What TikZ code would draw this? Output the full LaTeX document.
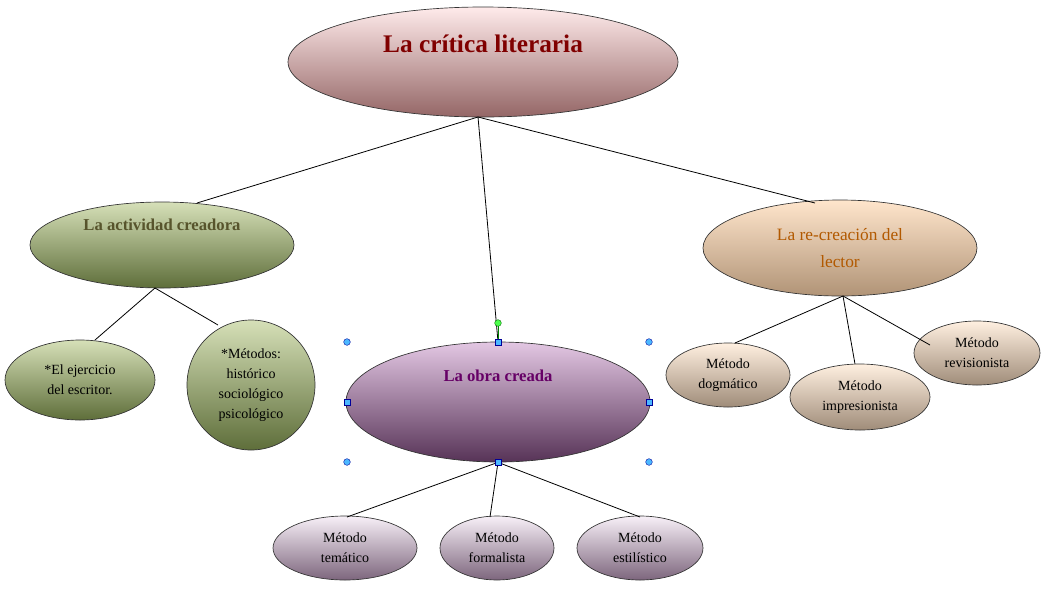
\documentclass[tikz,border=0pt]{standalone}
\usepackage{fontspec}
\setmainfont{Liberation Serif}
\usetikzlibrary{shapes.geometric}
\definecolor{gtop}{HTML}{D6E0B8}
\definecolor{gbot}{HTML}{5E6E3A}
\begin{document}
\begin{tikzpicture}[x=0.75pt,y=-0.75pt,
 el/.style={ellipse,draw=black!80,line width=0.5pt,inner sep=0pt,align=center},
 sz/.style 2 args={minimum width=#1*0.75pt,minimum height=#2*0.75pt},
 big/.style={el,font=\bfseries\fontsize{19}{22}\selectfont},
 mid/.style={el,font=\bfseries\fontsize{12.5}{18}\selectfont},
 sm/.style={el,font=\fontsize{10.5}{15}\selectfont},
 pink/.style={top color=red!8!white,bottom color=red!30!black!60},
 green/.style={top color=gtop,bottom color=gbot},
 orange/.style={top color=orange!20!white,bottom color=brown!70!black!65},
 purple/.style={top color=violet!22!white,bottom color=violet!35!black!80},
 lav/.style={top color=violet!6!white,bottom color=violet!30!black!60},
 peach/.style={top color=orange!12!white,bottom color=brown!50!black!60},
 handle/.style={fill=blue!40!cyan!70,draw=blue!60!black,line width=0.3pt,minimum size=4.5pt,inner sep=0pt},
 ln/.style={line width=0.6pt}]
\useasboundingbox (0,0) rectangle (1054,612);
\node[big,pink,sz={390}{110},text=red!50!black] (t) at (483,62) {La crítica literaria\\[6pt]};
\node[mid,green,sz={264}{86},text=olive!50!black] (l) at (162,245) {La actividad creadora\\[12pt]};
\node[mid,orange,sz={274}{96},text=orange!70!black,font=\fontsize{13}{20}\selectfont] (r) at (840,248) {La re-creación del\\lector};
\node[mid,purple,sz={304}{120},text=violet!80!black] (m) at (498,402) {La obra creada\\[22pt]};
\node[sm,green,sz={150}{80}] (l1) at (80,380) {*El ejercicio\\del escritor.};
\node[sm,green,sz={128}{130}] (l2) at (251,385) {*Métodos:\\histórico\\sociológico\\psicológico};
\node[sm,lav,sz={144}{64}] (m1) at (345,548) {Método\\temático};
\node[sm,lav,sz={114}{64}] (m2) at (497,548) {Método\\formalista};
\node[sm,lav,sz={126}{64}] (m3) at (640,548) {Método\\estilístico};
\node[sm,peach,sz={124}{64}] (r1) at (728,375) {Método\\dogmático};
\node[sm,peach,sz={140}{66}] (r2) at (860,397) {Método\\impresionista};
\node[sm,peach,sz={126}{64}] (r3) at (977,353) {Método\\revisionista};
\coordinate (ta) at (478,117);
\draw[ln] (ta) -- (197,203);
\draw[ln] (ta) -- (m.north);
\draw[ln] (ta) -- (815,203);
\coordinate (lb) at (155,288);
\draw[ln] (lb) -- (95,340); \draw[ln] (lb) -- (218,325);
\draw[ln] (m.south) -- (347,517); \draw[ln] (m.south) -- (490,517); \draw[ln] (m.south) -- (640,517);
\coordinate (rb) at (843,296);
\draw[ln] (rb) -- (735,343); \draw[ln] (rb) -- (855,364); \draw[ln] (rb) -- (930,345);
\draw[green!50!black,line width=0.4pt] (m.north) -- (498,323);
\node[circle,fill=green!70,draw=green!40!black,line width=0.3pt,minimum size=5pt,inner sep=0pt] (hg) at (498,323) {};
\foreach \p/\n in {{(498,342)}/h1,{(498,462)}/h2,{(347,402)}/h3,{(649,402)}/h4}
  \node[handle] (\n) at \p {};
\foreach \p/\n in {{(347,342)}/c1,{(649,342)}/c2,{(347,462)}/c3,{(649,462)}/c4}
  \node[circle,fill=blue!40!cyan!70,draw=blue!60!black,line width=0.3pt,minimum size=5pt,inner sep=0pt] (\n) at \p {};
\end{tikzpicture}
\end{document}
